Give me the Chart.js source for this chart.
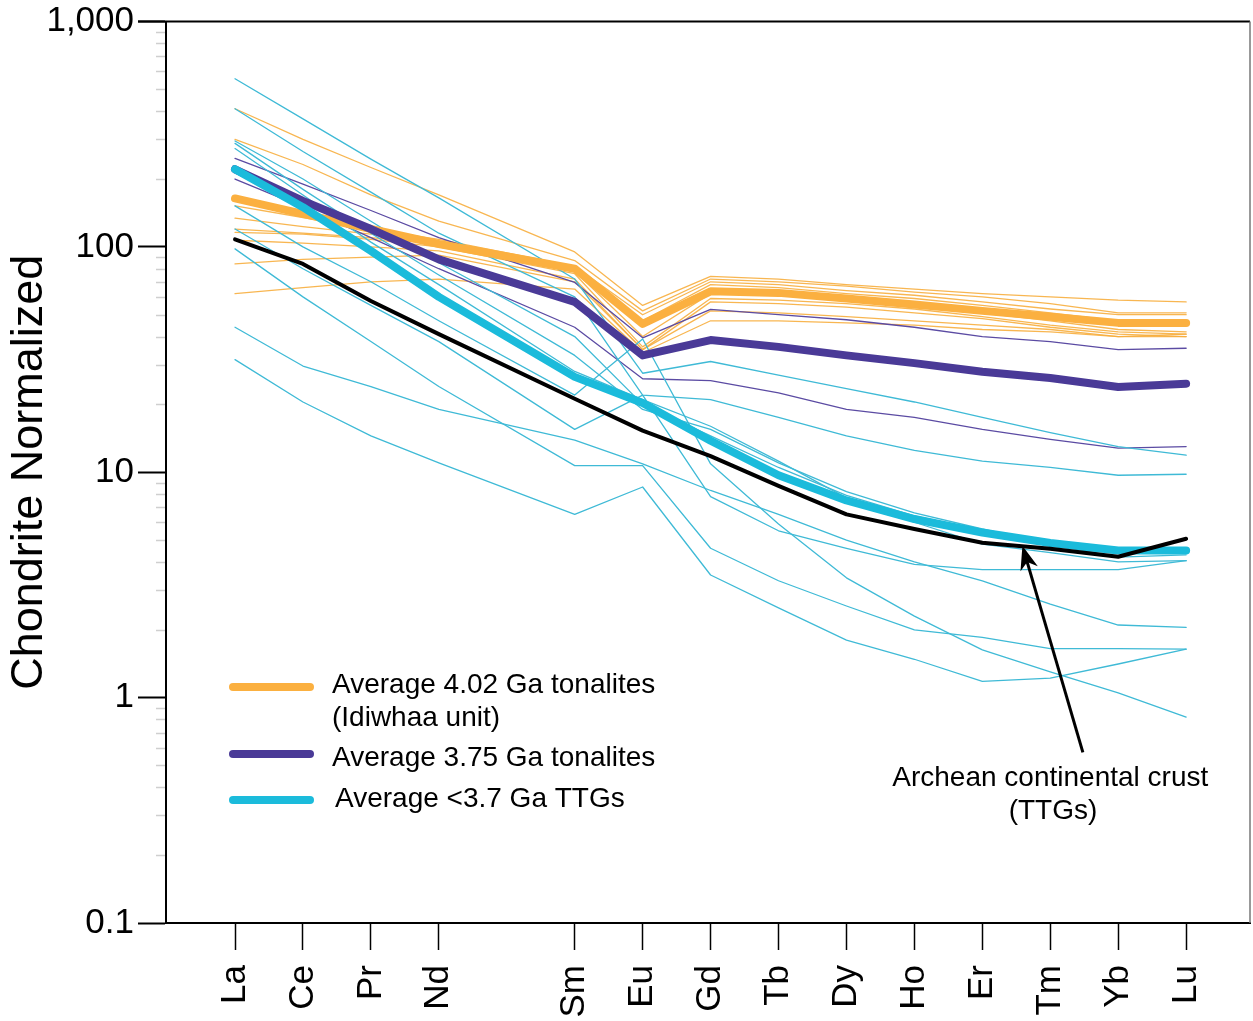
<!DOCTYPE html>
<html>
<head>
<meta charset="utf-8">
<title>REE chondrite normalized</title>
<script src="https://cdn.jsdelivr.net/npm/chart.js@4.4.1/dist/chart.umd.min.js"></script>
<style>
  html, body { margin: 0; padding: 0; background: #fff; }
  #wrap { width: 1253px; height: 1021px; }
</style>
</head>
<body>
<div id="wrap"><canvas id="chart" width="1253" height="1021"></canvas></div>
<script>
// Full lanthanide row; Pm keeps its slot on the axis but has no data
const reeAxis = ['La', 'Ce', 'Pr', 'Nd', 'Pm', 'Sm', 'Eu', 'Gd', 'Tb', 'Dy', 'Ho', 'Er', 'Tm', 'Yb', 'Lu'];
const reePlotted = ['La', 'Ce', 'Pr', 'Nd', 'Sm', 'Eu', 'Gd', 'Tb', 'Dy', 'Ho', 'Er', 'Tm', 'Yb', 'Lu'];
const yTicks = [0.1, 1, 10, 100, 1000];

// Averages (thick lines)
const avg402 = [164, 140, 120, 103, 80, 45.5, 63.5, 62.5, 59, 55.5, 52, 49, 46, 46];
const avg375 = [221, 160, 120, 88, 57, 33, 38.6, 36, 33, 30.5, 27.9, 26.2, 23.9, 24.7];
const avgTTG = [221, 150, 96, 60, 26.5, 20.3, 13.8, 9.7, 7.5, 6.2, 5.4, 4.85, 4.5, 4.5];
const archeanCrust = [108, 84, 57.5, 41, 21.2, 15.3, 11.8, 8.7, 6.5, 5.6, 4.87, 4.58, 4.22, 5.07];

// Individual samples (thin lines)
const tonalites402 = [
  [410, 300, 225, 170, 95, 55, 74, 72, 68, 65, 62, 60, 58, 57],
  [300, 232, 170, 130, 87, 52, 72, 70, 67, 63, 60, 56, 51, 51],
  [152, 135, 120, 108, 82, 50, 70, 68, 64, 61, 57, 53, 50, 50],
  [134, 123, 114, 105, 80, 47, 68, 66, 62, 59, 55, 51, 47, 47],
  [120, 115, 110, 103, 78, 40, 62, 61, 58, 55, 51, 47, 43, 42],
  [116, 114, 108, 100, 76, 36, 59, 58, 56, 53, 49, 45, 42, 41],
  [107, 104, 100, 96, 72, 35, 57, 56, 54, 51, 48, 44, 41, 40],
  [84, 88, 90, 92, 70, 35, 52, 51, 49, 47, 45, 43, 40, 40],
  [62, 66, 70, 72, 65, 34, 47, 47, 46, 45, 43, 42, 40, 41]
];
const tonalites375 = [
  [247, 190, 145, 110, 69.5, 39.5, 52.8, 50, 47.5, 44, 40, 38, 35, 35.5],
  [200, 150, 110, 80, 44, 26, 25.5, 22.5, 19, 17.5, 15.5, 14, 12.8, 13]
];
const ttgSamples = [
  [557, 370, 245, 165, 72, 27.5, 31, 27, 23.5, 20.5, 17.5, 15, 13, 11.9],
  [410, 265, 175, 115, 60, 22, 21, 17.5, 14.5, 12.5, 11.2, 10.5, 9.7, 9.8],
  [295, 200, 130, 85, 40, 20, 14.5, 10.5, 7.9, 6.4, 5.5, 4.9, 4.5, 4.5],
  [288, 180, 115, 75, 33, 19, 15.5, 11, 8.2, 6.6, 5.6, 4.8, 4.2, 4.3],
  [273, 170, 105, 68, 28, 21, 16, 11.2, 7.7, 6, 4.8, 4.4, 4.0, 4.05],
  [152, 100, 70, 47, 22, 39, 10.9, 5.9, 3.4, 2.3, 1.63, 1.3, 1.05, 0.82],
  [120, 80, 55, 38, 15.5, 22, 7.8, 5.5, 4.6, 3.9, 3.7, 3.7, 3.7, 4.05],
  [98, 60, 38, 24, 10.7, 10.7, 4.6, 3.3, 2.55, 2.0, 1.85, 1.65, 1.65, 1.64],
  [44, 29.6, 24, 19, 13.9, 10.9, 8.3, 6.5, 5.0, 4.0, 3.3, 2.6, 2.1, 2.05],
  [31.6, 20.5, 14.5, 11, 6.5, 8.6, 3.5, 2.5, 1.8, 1.48, 1.18, 1.22, 1.41, 1.64]
];

const COLORS = {
  orange: '#fbb040',
  orangeThin: 'rgba(247, 174, 62, 0.9)',
  purple: '#4a3a97',
  purpleThin: '#5b4ba3',
  cyan: '#1bbbdb',
  cyanThin: '#3fbad6',
  black: '#000000'
};
const FONT = '"Liberation Sans", Arial, Helvetica, sans-serif';

function toPoints(values) {
  return values.map((v, i) => ({ x: reeAxis.indexOf(reePlotted[i]), y: v }));
}

function lineSet(label, values, color, width, order) {
  return {
    label: label,
    data: toPoints(values),
    borderColor: color,
    backgroundColor: color,
    borderWidth: width,
    borderCapStyle: 'round',
    borderJoinStyle: 'round',
    pointRadius: 0,
    tension: 0,
    fill: false,
    order: order
  };
}

// lower order is drawn on top
const datasets = [
  lineSet('Archean continental crust (TTGs)', archeanCrust, COLORS.black, 4, 0),
  lineSet('Average <3.7 Ga TTGs', avgTTG, COLORS.cyan, 8, 1),
  lineSet('Average 3.75 Ga tonalites', avg375, COLORS.purple, 8, 2),
  lineSet('Average 4.02 Ga tonalites', avg402, COLORS.orange, 8, 3)
];
ttgSamples.forEach((s, i) => datasets.push(lineSet('TTG ' + (i + 1), s, COLORS.cyanThin, 1.3, 4)));
tonalites375.forEach((s, i) => datasets.push(lineSet('3.75 Ga ' + (i + 1), s, COLORS.purpleThin, 1.3, 5)));
tonalites402.forEach((s, i) => datasets.push(lineSet('4.02 Ga ' + (i + 1), s, COLORS.orangeThin, 1.3, 6)));

// Legend entries and the crust annotation, drawn inside the plot
const legendItems = [
  { color: COLORS.orange, lines: ['Average 4.02 Ga tonalites', '(Idiwhaa unit)'], lineY: 687, textX: 332, textY: 685 },
  { color: COLORS.purple, lines: ['Average 3.75 Ga tonalites'], lineY: 754, textX: 332, textY: 758 },
  { color: COLORS.cyan, lines: ['Average <3.7 Ga TTGs'], lineY: 800, textX: 335, textY: 799 }
];
const crustNote = {
  lines: ['Archean continental crust', '(TTGs)'],
  textPos: [{ x: 12.0, y: 0.44 }, { x: 12.04, y: 0.313 }],
  tip: { x: 11.59, y: 4.72 },
  tail: { x: 12.48, y: 0.572 }
};

const decorPlugin = {
  id: 'decor',
  afterDraw(chart) {
    const { ctx, chartArea: a, scales: { x, y } } = chart;
    ctx.save();

    // top and right frame
    ctx.strokeStyle = '#000';
    ctx.lineWidth = 2;
    ctx.beginPath();
    ctx.moveTo(a.left - 28, a.top);
    ctx.lineTo(a.right, a.top);
    ctx.stroke();
    ctx.strokeStyle = '#777';
    ctx.lineWidth = 1.5;
    ctx.beginPath();
    ctx.moveTo(a.right, a.top);
    ctx.lineTo(a.right, a.bottom);
    ctx.stroke();

    // minor log ticks
    ctx.strokeStyle = '#cfcfcf';
    ctx.lineWidth = 1.5;
    [0.1, 1, 10, 100].forEach(d => {
      for (let m = 2; m <= 9; m++) {
        const py = Math.round(y.getPixelForValue(d * m)) + 0.5;
        ctx.beginPath();
        ctx.moveTo(a.left - 10, py);
        ctx.lineTo(a.left - 1, py);
        ctx.stroke();
      }
    });

    // legend
    ctx.font = '28px ' + FONT;
    ctx.fillStyle = '#000';
    ctx.textBaseline = 'middle';
    ctx.textAlign = 'left';
    legendItems.forEach(item => {
      ctx.strokeStyle = item.color;
      ctx.lineWidth = 8;
      ctx.lineCap = 'round';
      ctx.beginPath();
      ctx.moveTo(233, item.lineY);
      ctx.lineTo(310, item.lineY);
      ctx.stroke();
      item.lines.forEach((t, k) => ctx.fillText(t, item.textX, item.textY + k * 33));
    });

    // annotation with arrow
    ctx.textAlign = 'center';
    crustNote.lines.forEach((t, k) => {
      const p = crustNote.textPos[k];
      ctx.fillText(t, x.getPixelForValue(p.x), y.getPixelForValue(p.y));
    });
    const tx = x.getPixelForValue(crustNote.tip.x), ty = y.getPixelForValue(crustNote.tip.y);
    const sx = x.getPixelForValue(crustNote.tail.x), sy = y.getPixelForValue(crustNote.tail.y);
    const ang = Math.atan2(ty - sy, tx - sx);
    ctx.strokeStyle = '#000';
    ctx.lineWidth = 3;
    ctx.lineCap = 'butt';
    ctx.beginPath();
    ctx.moveTo(sx, sy);
    ctx.lineTo(tx - 14 * Math.cos(ang), ty - 14 * Math.sin(ang));
    ctx.stroke();
    ctx.fillStyle = '#000';
    ctx.beginPath();
    ctx.moveTo(tx, ty);
    ctx.lineTo(tx - 24 * Math.cos(ang) + 9 * Math.sin(ang), ty - 24 * Math.sin(ang) - 9 * Math.cos(ang));
    ctx.lineTo(tx - 17 * Math.cos(ang), ty - 17 * Math.sin(ang));
    ctx.lineTo(tx - 24 * Math.cos(ang) - 9 * Math.sin(ang), ty - 24 * Math.sin(ang) + 9 * Math.cos(ang));
    ctx.closePath();
    ctx.fill();

    ctx.restore();
  }
};

Chart.defaults.font.family = FONT;
Chart.defaults.color = '#000';

new Chart(document.getElementById('chart').getContext('2d'), {
  type: 'line',
  data: { datasets: datasets },
  options: {
    responsive: false,
    animation: false,
    events: [],
    layout: { padding: { top: 20, right: 3, left: 0, bottom: 0 } },
    plugins: {
      legend: { display: false },
      tooltip: { enabled: false }
    },
    scales: {
      x: {
        type: 'linear',
        min: -1.016,
        max: 14.94,
        afterBuildTicks: scale => {
          scale.ticks = reePlotted.map(n => ({ value: reeAxis.indexOf(n) }));
        },
        afterFit: scale => { scale.height = 98; },
        ticks: {
          autoSkip: false,
          minRotation: 90,
          maxRotation: 90,
          padding: 15,
          font: { size: 35 },
          color: '#000',
          callback: value => reeAxis[value]
        },
        grid: {
          drawOnChartArea: false,
          drawTicks: true,
          tickLength: 27,
          tickColor: '#000',
          tickWidth: 1.5
        },
        border: { display: true, color: '#000', width: 2 }
      },
      y: {
        type: 'logarithmic',
        min: 0.1,
        max: 1000,
        afterBuildTicks: scale => {
          scale.ticks = yTicks.map(v => ({ value: v, major: true }));
        },
        afterFit: scale => { scale.width = 166; },
        ticks: {
          padding: 4,
          font: { size: 35, lineHeight: 1 },
          color: '#000',
          callback: value => Number(value).toLocaleString('en-US')
        },
        grid: {
          drawOnChartArea: false,
          drawTicks: true,
          tickLength: 28,
          tickColor: '#000',
          tickWidth: 2
        },
        border: { display: true, color: '#000', width: 2 },
        title: {
          display: true,
          text: 'Chondrite Normalized',
          font: { size: 45 },
          color: '#000',
          padding: { top: 3, bottom: 0 }
        }
      }
    }
  },
  plugins: [decorPlugin]
});
</script>
</body>
</html>
